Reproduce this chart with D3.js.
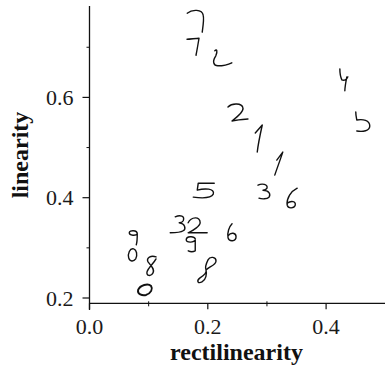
<!DOCTYPE html>
<html>
<head>
<meta charset="utf-8">
<script src="https://cdn.jsdelivr.net/npm/d3@7"></script>
<style>
  html, body { margin: 0; padding: 0; background: #fff; }
  svg { display: block; }
</style>
</head>
<body>
<svg id="chart" width="385" height="368"></svg>
<script>
// Handwritten digit samples placed by their rectilinearity / linearity scores
const digits = ["7", "7", "2", "4", "5", "2", "1", "1", "5", "3", "6", "3", "2", "6", "9", "9", "0", "8", "8", "0"];
const rectilinearity = [0.177, 0.175, 0.222, 0.430, 0.462, 0.251, 0.287, 0.320, 0.194, 0.295, 0.341, 0.150, 0.182, 0.241, 0.074, 0.172, 0.073, 0.104, 0.197, 0.094];
const linearity = [0.752, 0.700, 0.677, 0.635, 0.551, 0.569, 0.519, 0.469, 0.415, 0.411, 0.397, 0.346, 0.344, 0.330, 0.320, 0.308, 0.286, 0.264, 0.256, 0.216];

const xTicks = [0.0, 0.2, 0.4];
const xMinorTicks = [0.1, 0.3];
const yTicks = [0.2, 0.4, 0.6];
const yMinorTicks = [0.3, 0.5, 0.7];

const SERIF = "'Liberation Serif', 'Times New Roman', Times, serif";

// Pen strokes for each handwritten sample, drawn around its own centre
const glyphStrokes = [
  "M-7,-8 C-2,-12 8,-12 9,-6 C10,-2 9,4 8,11",
  "M-6,-8 C-3,-8 3,-9 6,-9 C5,-3 4,3 3,8",
  "M-6,-8 C-4,-10 -3,-8 -5,-3 C-9,3 -7,7 -3,7 C2,7 7,6 11,4",
  "M-4,-11 C-4,-6 -3,-2 -2,0 C0,1 3,0 4,-3 M3,-3 C2,2 1,7 1,11",
  "M-7,-10 C-7,-6 -6,-3 -6,-2 C0,-3 7,-2 7,4 C7,9 0,10 -6,9",
  "M-10,-6 C-6,-10 4,-10 5,-5 C6,-1 -2,5 -6,8 C0,7 5,6 10,6",
  "M-4,-5 L3,-13 C1,-4 -1,5 -2,14",
  "M-2,-3 L4,-11 C1,-2 -2,6 -4,12",
  "M10,-7 L-6,-7 L-7,0 C0,-2 11,-2 9,4 C7,8 -3,8 -11,7",
  "M-6,-7 C-2,-9 4,-8 3,-4 C2,-2 0,-2 -1,-2 C5,-2 7,2 5,5 C3,7 -2,7 -5,6",
  "M6,-11 C0,-8 -5,-1 -4,6 C-3,10 3,9 4,6 C5,2 0,1 -4,4",
  "M-3,-8 C2,-10 7,-9 5,-4 C4,-2 2,-2 1,-2 C7,-1 8,4 5,6 C2,8 -4,8 -8,8",
  "M-9,-3 C-6,-9 3,-10 3,-3 C3,0 -4,5 -9,7 C-2,7 6,7 10,7",
  "M0,-9 C-3,-6 -5,0 -4,5 C-3,9 4,9 4,4 C4,0 -1,-1 -4,3",
  "M4,-4 C4,-8 -4,-8 -4,-5 C-4,-2 3,-2 4,-4 C4,0 4,4 3,7",
  "M4,-5 C3,-8 -5,-8 -5,-4 C-5,-1 3,-1 4,-4 C4,0 4,5 4,7 C2,8 -1,8 -3,7",
  "M1,-6 C-3,-7 -5,-1 -4,3 C-3,7 1,7 3,4 C5,0 4,-5 1,-6 Z",
  "M5,-9 C0,-11 -5,-8 -3,-4 C0,0 4,3 2,7 C0,11 -5,10 -4,6 C-3,2 3,-3 5,-7",
  "M0,0 C3,-3 10,-5 10,-9 C10,-13 4,-14 2,-10 C0,-6 -1,-2 0,0 C1,3 -3,6 -6,8 C-10,11 -8,14 -4,12 C0,10 1,4 0,0",
  "M6,-4 C3,-7 -5,-5 -7,0 C-8,4 -3,6 1,5 C6,3 8,-1 6,-4 Z"
];

const svg = d3.select("#chart");

const x = d3.scaleLinear().domain([0, 0.5]).range([89.5, 385.25]);
const y = d3.scaleLinear().domain([0.2, 0.8]).range([298, -2.9]);

const axisY = 303.3;

// x axis
const gx = svg.append("g").attr("transform", `translate(0,${axisY})`);
gx.append("line").attr("x1", x(0)).attr("x2", 385).attr("stroke", "#111").attr("stroke-width", 1.3);
gx.selectAll(".maj").data(xTicks).join("line")
  .attr("x1", d => x(d)).attr("x2", d => x(d)).attr("y1", 0).attr("y2", 6)
  .attr("stroke", "#111").attr("stroke-width", 1.2);
gx.selectAll(".min").data(xMinorTicks).join("line")
  .attr("x1", d => x(d)).attr("x2", d => x(d)).attr("y1", -2).attr("y2", 3)
  .attr("stroke", "#111").attr("stroke-width", 1);
gx.selectAll("text").data(xTicks).join("text")
  .attr("x", d => x(d)).attr("y", 31)
  .attr("text-anchor", "middle").attr("font-size", 22)
  .attr("font-family", SERIF).attr("fill", "#1a1a1a")
  .text(d => d3.format(".1f")(d));

// y axis
const gy = svg.append("g");
gy.append("line").attr("x1", x(0)).attr("x2", x(0)).attr("y1", 6).attr("y2", 310)
  .attr("stroke", "#111").attr("stroke-width", 1.3);
gy.selectAll(".maj").data(yTicks).join("line")
  .attr("x1", x(0) - 7).attr("x2", x(0)).attr("y1", d => y(d)).attr("y2", d => y(d))
  .attr("stroke", "#111").attr("stroke-width", 1.2);
gy.selectAll(".min").data(yMinorTicks).join("line")
  .attr("x1", x(0) - 3).attr("x2", x(0)).attr("y1", d => y(d)).attr("y2", d => y(d))
  .attr("stroke", "#111").attr("stroke-width", 1);
gy.selectAll("text").data(yTicks).join("text")
  .attr("x", 73.5).attr("y", d => y(d) + 7.6)
  .attr("text-anchor", "end").attr("font-size", 22)
  .attr("font-family", SERIF).attr("fill", "#1a1a1a")
  .text(d => d3.format(".1f")(d));

// axis titles
svg.append("text")
  .attr("x", 236.5).attr("y", 360)
  .attr("text-anchor", "middle").attr("font-size", 24).attr("font-weight", "bold")
  .attr("font-family", SERIF).attr("fill", "#111")
  .text("rectilinearity");
svg.append("text")
  .attr("transform", "translate(28,155) rotate(-90)")
  .attr("text-anchor", "middle").attr("font-size", 24).attr("font-weight", "bold")
  .attr("font-family", SERIF).attr("fill", "#111")
  .text("linearity");

// handwritten samples
svg.append("g").selectAll("path").data(digits).join("path")
  .attr("transform", (d, i) => `translate(${x(rectilinearity[i])},${y(linearity[i])})`)
  .attr("d", (d, i) => glyphStrokes[i])
  .attr("fill", "none").attr("stroke", "#111")
  .attr("stroke-width", (d, i) => i === 19 ? 1.9 : 1.4)
  .attr("stroke-linecap", "round").attr("stroke-linejoin", "round")
  .append("title").text(d => d);
</script>
</body>
</html>
